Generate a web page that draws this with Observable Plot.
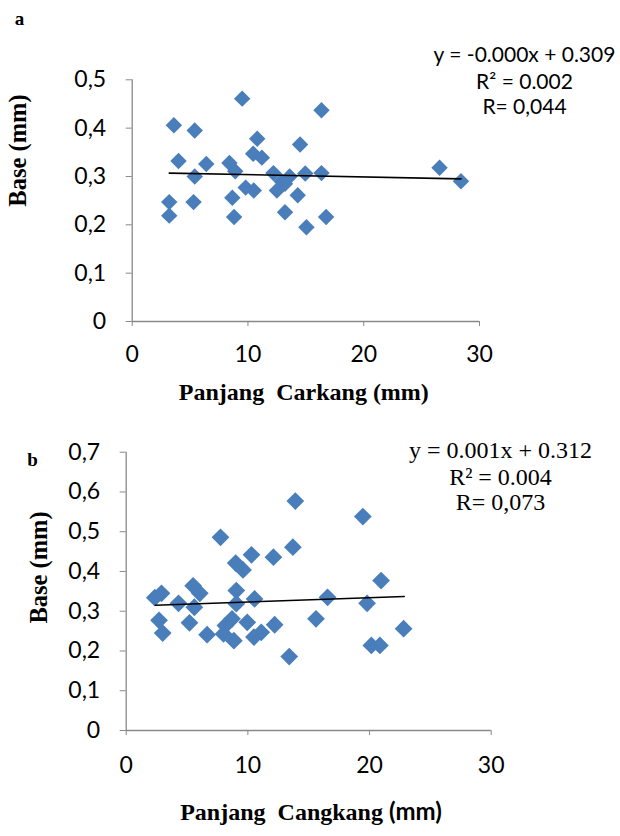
<!DOCTYPE html>
<html>
<head>
<meta charset="utf-8">
<script src="https://cdn.jsdelivr.net/npm/d3@7"></script>
<script src="https://cdn.jsdelivr.net/npm/@observablehq/plot@0.6"></script>
<style>
  body { margin: 0; background: #fff; }
  #chart { width: 620px; height: 836px; overflow: hidden; }
  #chart svg { display: block; }
  #chart svg text { white-space: pre; }
</style>
</head>
<body>
<div id="chart"></div>
<script>
// ---- Panel a data: Panjang Carkang (mm) vs Base (mm)
const aX = [3.6, 5.4, 9.5, 16.35, 4.0, 5.4, 6.4, 8.4, 8.9, 10.8, 10.45, 11.2, 14.5, 12.2, 13.6, 14.95, 16.35, 26.55, 28.4, 9.8, 10.5, 8.65, 12.5, 13.2, 14.3, 3.2, 5.3, 3.2, 8.8, 13.2, 15.05, 16.75, 12.9];
const aY = [0.406, 0.395, 0.461, 0.437, 0.332, 0.300, 0.326, 0.328, 0.311, 0.378, 0.347, 0.339, 0.366, 0.307, 0.300, 0.306, 0.307, 0.318, 0.290, 0.277, 0.271, 0.256, 0.271, 0.285, 0.261, 0.247, 0.247, 0.219, 0.216, 0.226, 0.195, 0.216, 0.290];
const aTrendX = [3.2, 28.4];
const aTrendY = [0.307, 0.295];
const aEquation = ["y = -0.000x + 0.309", "R² = 0.002", "R= 0,044"];

// ---- Panel b data: Panjang Cangkang (mm) vs Base (mm)
const bX = [2.9, 2.35, 2.7, 3.0, 4.3, 5.2, 5.5, 6.05, 5.6, 6.65, 7.75, 9.0, 9.6, 10.3, 9.05, 9.05, 10.55, 8.7, 8.15, 9.95, 8.0, 8.85, 10.5, 11.1, 12.1, 12.2, 13.7, 13.9, 13.4, 15.6, 16.55, 19.45, 19.8, 20.15, 20.85, 20.95, 22.8];
const bY = [0.345, 0.334, 0.277, 0.245, 0.320, 0.271, 0.364, 0.345, 0.310, 0.241, 0.486, 0.421, 0.404, 0.442, 0.352, 0.319, 0.331, 0.281, 0.264, 0.272, 0.243, 0.226, 0.235, 0.247, 0.436, 0.266, 0.461, 0.577, 0.186, 0.281, 0.335, 0.538, 0.320, 0.214, 0.214, 0.377, 0.256];
const bTrendX = [2.4, 22.85];
const bTrendY = [0.315, 0.337];
const bEquation = ["y = 0.001x + 0.312", "R² = 0.004", "R= 0,073"];

const xTicks = [0, 10, 20, 30];
const aYTicks = [0, 0.1, 0.2, 0.3, 0.4, 0.5];
const bYTicks = [0, 0.1, 0.2, 0.3, 0.4, 0.5, 0.6, 0.7];

const BLUE = "#4a7ebb";
const AXIS = "#898989";
const SANS = "Lato, 'Open Sans', sans-serif";
const SERIF = "'Liberation Serif', 'DejaVu Serif', serif";
const yFmt = d => d === 0 ? "0" : d.toFixed(1).replace(".", ",");
const xFmt = d => String(d);

function label(txt, o) {
  return Plot.text([txt], {
    frameAnchor: o.anchor, dx: o.dx, dy: o.dy, rotate: o.rotate || 0,
    text: d => d, fontFamily: o.font, fontWeight: o.weight || "normal", fontSize: o.size,
    textAnchor: "middle", lineAnchor: "middle", fill: "#000", className: o.cls
  });
}

function panel(o) {
  const pts = o.X.map((x, i) => ({x, y: o.Y[i]}));
  const trend = o.TX.map((x, i) => ({x, y: o.TY[i]}));
  return Plot.plot({
    width: 620,
    height: o.height,
    marginLeft: o.ml, marginRight: o.mr, marginTop: o.mt, marginBottom: o.mb,
    style: {fontFamily: SANS, fontSize: "23px", color: "#000", background: "#fff"},
    x: {domain: [0, 30], ticks: xTicks},
    y: {domain: [0, o.ymax]},
    marks: [
      Plot.ruleX([0], {stroke: AXIS, strokeWidth: 1.3}),
      Plot.ruleY([0], {stroke: AXIS, strokeWidth: 1.3}),
      Plot.axisY({ticks: o.yTicks, tickFormat: yFmt, tickSize: 6, tickPadding: 20, stroke: AXIS, fill: "#000", fontSize: 23, label: null}),
      Plot.axisX({ticks: xTicks, tickFormat: xFmt, tickSize: 5, tickPadding: o.xpad, stroke: AXIS, fill: "#000", fontSize: 23, label: null}),
      Plot.dot(pts, {x: "x", y: "y", symbol: "diamond2", r: o.r, fill: BLUE, stroke: null}),
      Plot.line(trend, {x: "x", y: "y", stroke: "#000", strokeWidth: 1.6}),
      label(o.letter, {anchor: "top-left", dx: o.letterDx, dy: o.letterDy, font: SERIF, weight: "bold", size: 19}),
      label("Base (mm)", {anchor: "top-left", dx: o.yLabDx, dy: o.yLabDy, rotate: -90, font: SERIF, weight: "bold", size: 24.5}),
      label(o.xLabel, {anchor: "bottom", dx: o.xLabDx, dy: o.xLabDy, font: SERIF, weight: "bold", size: 24, cls: "xlab"}),
      ...o.eq.map((t, i) => label(t, {anchor: "top-right", dx: o.eqDx, dy: o.eqDy[i], font: o.eqFont, size: o.eqSize}))
    ]
  });
}

const chart = document.getElementById("chart");

chart.appendChild(panel({
  X: aX, Y: aY, TX: aTrendX, TY: aTrendY, yTicks: aYTicks, ymax: 0.5,
  height: 414, ml: 131.7, mr: 141, mt: 79.3, mb: 93, r: 7.4, xpad: 19,
  letter: "a", letterDx: -112.7, letterDy: -61.3,
  yLabDx: -113.7, yLabDy: 70.7,
  xLabel: "Panjang  Carkang (mm)", xLabDx: -2, xLabDy: 71,
  eq: aEquation, eqDx: 45, eqDy: [-24.3, 2.7, 27.7], eqFont: SANS, eqSize: 21
}));

const svgB = panel({
  X: bX, Y: bY, TX: bTrendX, TY: bTrendY, yTicks: bYTicks, ymax: 0.7,
  height: 422, ml: 125.7, mr: 129.3, mt: 37.7, mb: 106, r: 8, xpad: 21,
  letter: "b", letterDx: -93.7, letterDy: 7.3,
  yLabDx: -86.7, yLabDy: 115.3,
  xLabel: "Panjang  Cangkang ", xLabDx: 2.3, xLabDy: 82,
  eq: bEquation, eqDx: 9.3, eqDy: [-1.7, 25, 50], eqFont: SERIF, eqSize: 24
});
chart.appendChild(svgB);

// "(mm)" in the second x title is set in a bold sans face, as in the original
d3.select(svgB).selectAll("g.xlab text").each(function () {
  const t = d3.select(this);
  const txt = t.text();
  t.text(null);
  t.append("tspan").text(txt);
  t.append("tspan").text("(mm)").attr("font-family", SANS).attr("font-weight", "bold").attr("font-size", 24);
});
</script>
</body>
</html>
